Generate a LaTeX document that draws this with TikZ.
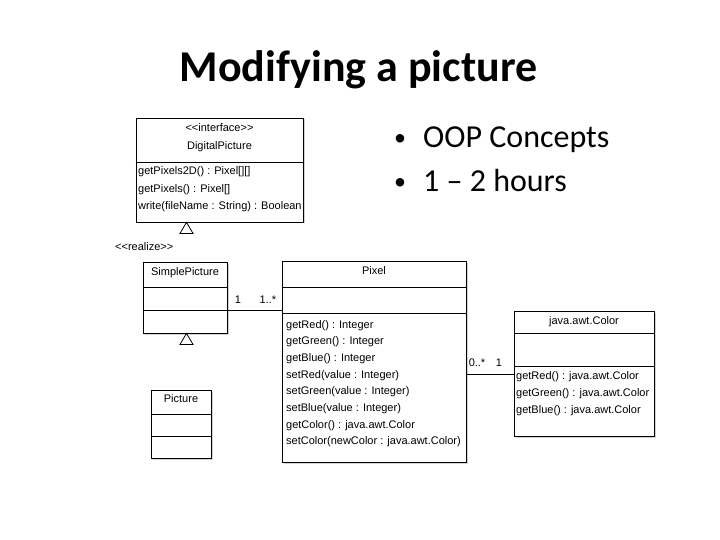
\documentclass[tikz,border=0pt]{standalone}
\usepackage{fontspec}
\setmainfont{Carlito}
\newfontfamily\umlfont{Liberation Sans}
\usetikzlibrary{shadows}
\begin{document}
\begin{tikzpicture}[x=1pt,y=-1pt,
  umlbox/.style={draw=black, line width=0.8pt, fill=white, inner sep=0pt,
    drop shadow={shadow xshift=1.5pt, shadow yshift=-1.5pt, fill=gray!35, opacity=1}},
  divider/.style={draw=black, line width=0.8pt},
  umltext/.style={font=\umlfont\fontsize{11}{13}\selectfont, inner sep=0pt, text height=8pt, text depth=2pt},
  mtext/.style={umltext, anchor=west},
  ctext/.style={umltext, anchor=center},
  assoc/.style={draw=black, line width=0.8pt},
  realize/.style={draw=black, line width=0.8pt, fill=white},
  bullet/.style={anchor=base, inner sep=0pt, font=\fontsize{24}{28}\selectfont},
  btext/.style={anchor=base west, inner sep=0pt, font=\fontsize{32}{38}\selectfont}
]
\useasboundingbox (0,0) rectangle (720,540);

% title and bullets
\node[anchor=base, inner sep=0pt, font=\fontsize{44}{50}\bfseries\selectfont] (title) at (358.5,82) {Modifying a picture};
\node[bullet] (b1) at (400,146) {•};
\node[btext] (t1) at (423,148) {OOP Concepts};
\node[bullet] (b2) at (400,190) {•};
\node[btext] (t2) at (423,192) {1 – 2 hours};

% DigitalPicture
\node[umlbox, minimum width=167pt, minimum height=104pt] (dp) at (219.5,170) {};
\draw[divider] (dp.west |- 0,162) -- (dp.east |- 0,162);
\node[ctext] (dpst) at (219.5,129) {<{}<interface>{}>};
\node[ctext] (dpn) at (219.5,147) {DigitalPicture};
\node[mtext] (dpm1) at (138,172) {getPixels2D() : Pixel[][]};
\node[mtext] (dpm2) at (138,190) {getPixels() : Pixel[]};
\node[mtext] (dpm3) at (138,207) {write(fileName : String) : Boolean};

% realize triangle to DigitalPicture
\coordinate (tri1) at (dp.south -| 186.5,0);
\draw[realize] (tri1) -- ++(6.5,11) -- ++(-13,0) -- cycle;
\node[umltext, anchor=west] (rl) at (115,248) {<{}<realize>{}>};

% SimplePicture
\node[umlbox, minimum width=84pt, minimum height=71pt] (sp) at (185,297.5) {};
\draw[divider] (sp.west |- 0,287) -- (sp.east |- 0,287);
\draw[divider] (sp.west |- 0,310) -- (sp.east |- 0,310);
\node[ctext] (spn) at (185,272) {SimplePicture};

% triangle below SimplePicture
\coordinate (tri2) at (sp.south -| 186.5,0);
\draw[realize] (tri2) -- ++(6.5,11) -- ++(-13,0) -- cycle;

% Picture
\node[umlbox, minimum width=60pt, minimum height=68pt] (pic) at (181,424) {};
\draw[divider] (pic.west |- 0,414) -- (pic.east |- 0,414);
\draw[divider] (pic.west |- 0,436) -- (pic.east |- 0,436);
\node[ctext] (picn) at (181,399) {Picture};

% Pixel
\node[umlbox, minimum width=184pt, minimum height=201pt] (px) at (374,361.5) {};
\draw[divider] (px.west |- 0,287) -- (px.east |- 0,287);
\draw[divider] (px.west |- 0,313) -- (px.east |- 0,313);
\node[ctext] (pxn) at (374,271) {Pixel};
\node[mtext] (pxm1) at (286,325) {getRed() : Integer};
\node[mtext] (pxm2) at (286,341.7) {getGreen() : Integer};
\node[mtext] (pxm3) at (286,358.4) {getBlue() : Integer};
\node[mtext] (pxm4) at (286,375.1) {setRed(value : Integer)};
\node[mtext] (pxm5) at (286,391.8) {setGreen(value : Integer)};
\node[mtext] (pxm6) at (286,408.5) {setBlue(value : Integer)};
\node[mtext] (pxm7) at (286,425.2) {getColor() : java.awt.Color};
\node[mtext] (pxm8) at (286,441.9) {setColor(newColor : java.awt.Color)};

% java.awt.Color
\node[umlbox, minimum width=140pt, minimum height=125pt] (col) at (584,373.5) {};
\draw[divider] (col.west |- 0,333) -- (col.east |- 0,333);
\draw[divider] (col.west |- 0,366) -- (col.east |- 0,366);
\node[ctext] (coln) at (584,321) {java.awt.Color};
\node[mtext] (colm1) at (516,376) {getRed() : java.awt.Color};
\node[mtext] (colm2) at (516,393) {getGreen() : java.awt.Color};
\node[mtext] (colm3) at (516,410) {getBlue() : java.awt.Color};

% associations
\draw[assoc] (sp.east |- 0,310) -- (px.west |- 0,310);
\node[ctext] (m1) at (238,300) {1};
\node[ctext] (m2) at (268,300) {1..*};
\draw[assoc] (px.east |- 0,374) -- (col.west |- 0,374);
\node[ctext] (m3) at (477,363) {0..*};
\node[ctext] (m4) at (499,363) {1};
\end{tikzpicture}
\end{document}
